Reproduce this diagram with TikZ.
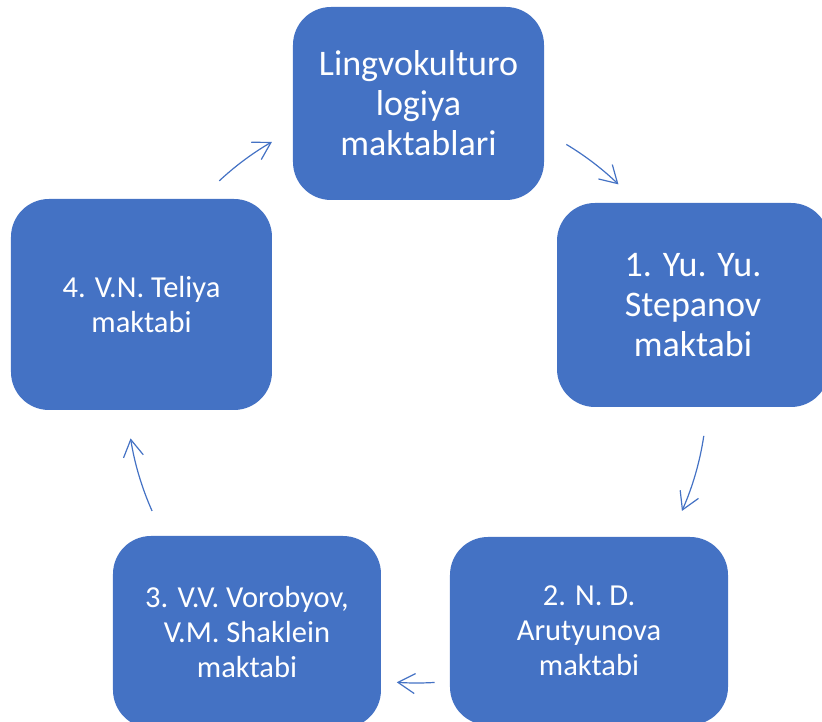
\documentclass[tikz,border=0pt]{standalone}
\usepackage{fontspec}
\setmainfont{Carlito}
\usetikzlibrary{arrows.meta}
\definecolor{boxblue}{HTML}{4472C4}

\begin{document}
\begin{tikzpicture}[x=1pt,y=1pt,
  box/.style={rectangle,rounded corners=38pt,fill=boxblue,text=white,align=center,inner sep=0pt},
  big/.style={font=\fontsize{36}{40}\selectfont},
  small/.style={font=\fontsize{30.5}{35}\selectfont},
  cyc/.style={boxblue,line width=1.2pt,-{Straight Barb[length=17pt,width=20pt]}}]
\useasboundingbox (-417,-329) rectangle (405,393);
\clip (-417,-329) rectangle (405,393);
\node [box,big,minimum width=251pt,minimum height=193pt] (l) at (1.5,289.5) {Lingvokulturo\\logiya\\maktablari};
\node [box,big,minimum width=272pt,minimum height=204pt] (s) at (276,88) {1. Yu. Yu.\\Stepanov\\maktabi};
\node [box,small,minimum width=278pt,minimum height=188pt] (a) at (172,-238) {2. N. D.\\Arutyunova\\maktabi};
\node [box,small,minimum width=268pt,minimum height=192pt] (v) at (-170,-239) {3. V.V. Vorobyov,\\V.M. Shaklein\\maktabi};
\node [box,small,minimum width=261pt,minimum height=211pt] (t) at (-275.5,88.5) {4. V.N. Teliya\\maktabi};
\coordinate (tl) at (133:290);
\coordinate (ls) at (59:290);
\coordinate (sa) at (-8.5:290);
\coordinate (av) at (-86.5:290);
\coordinate (vt) at (204:290);
\draw [cyc] (tl) arc [start angle=133,end angle=120,radius=290];
\draw [cyc] (ls) arc [start angle=59,end angle=46,radius=290];
\draw [cyc] (sa) arc [start angle=-8.5,end angle=-24,radius=290];
\draw [cyc] (av) arc [start angle=-86.5,end angle=-94,radius=290];
\draw [cyc] (vt) arc [start angle=204,end angle=189,radius=290];
\end{tikzpicture}
\end{document}
